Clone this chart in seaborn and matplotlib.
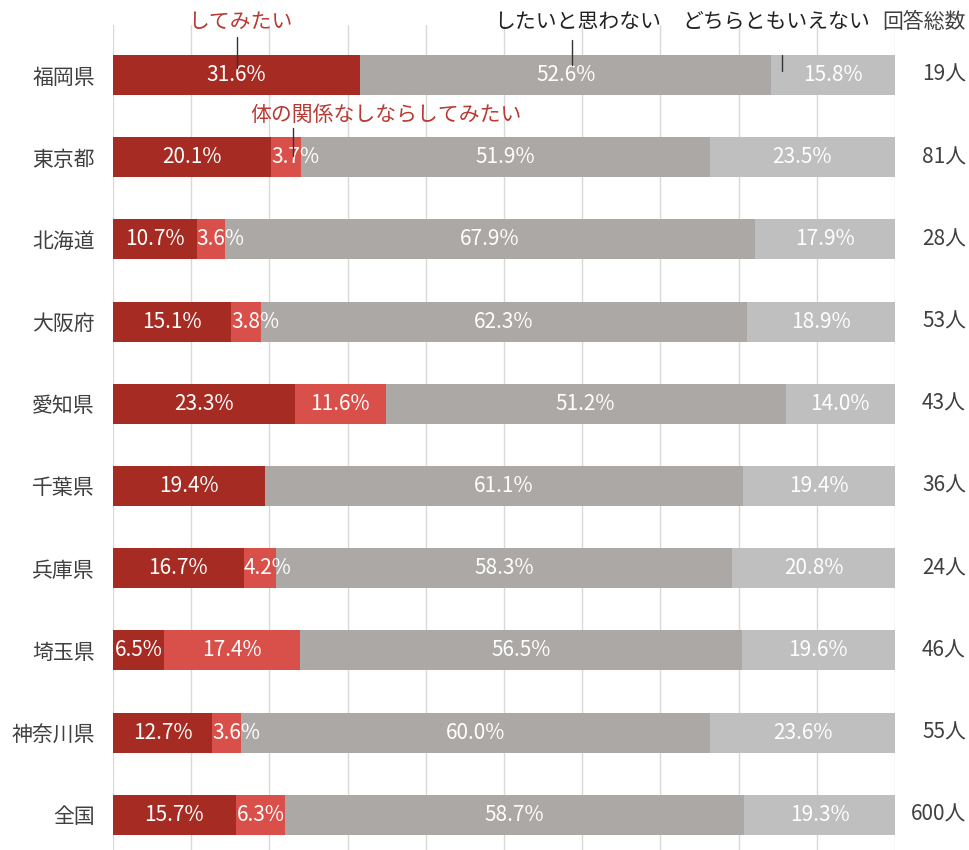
import matplotlib
matplotlib.use("Agg")
import matplotlib.pyplot as plt
import seaborn as sns
import numpy as np
import pandas as pd

sns.set_style("white")
plt.rcParams['font.family'] = ['Noto Sans CJK JP', 'DejaVu Sans']

categories = ["福岡県", "東京都", "北海道", "大阪府", "愛知県", "千葉県", "兵庫県", "埼玉県", "神奈川県", "全国"]
want = [31.6, 20.1, 10.7, 15.1, 23.3, 19.4, 16.7, 6.5, 12.7, 15.7]
want_nonbody = [0.0, 3.7, 3.6, 3.8, 11.6, 0.0, 4.2, 17.4, 3.6, 6.3]
dont_want = [52.6, 51.9, 67.9, 62.3, 51.2, 61.1, 58.3, 56.5, 60.0, 58.7]
neither = [15.8, 23.5, 17.9, 18.9, 14.0, 19.4, 20.8, 19.6, 23.6, 19.3]
counts = ["19人", "81人", "28人", "53人", "43人", "36人", "24人", "46人", "55人", "600人"]
series_names = ["してみたい", "体の関係なしならしてみたい", "したいと思わない", "どちらともいえない"]

colors = ["#a62b23", "#d9504a", "#aca8a6", "#c0bfbf"]
FS = 15

W, H = 969, 850
fig = plt.figure(figsize=(W / 100, H / 100), dpi=100)
ax_left, ax_right = 113, 895
ax_top, ax_bot = 25, 850
ax = fig.add_axes([ax_left / W, 1 - ax_bot / H, (ax_right - ax_left) / W, (ax_bot - ax_top) / H])

vals = np.array([want, want_nonbody, dont_want, neither], dtype=float)
totals = vals.sum(axis=0)
pct = vals / totals * 100
cum = np.cumsum(pct, axis=0)

df = pd.DataFrame({"cat": categories})
bar_h = 40 / 82.2
for k in range(3, -1, -1):
    df["v"] = cum[k]
    sns.barplot(data=df, x="v", y="cat", orient="h", color=colors[k], saturation=1,
                width=bar_h, order=categories, ax=ax, linewidth=0, zorder=2)

ax.set_xlim(0, 100)
y0 = (ax_top - 75) / 82.2
y1 = (ax_bot - 75) / 82.2
ax.set_ylim(y1, y0)
ax.set_xticks(np.arange(0, 101, 10))
ax.grid(axis="x", color="#d9d9d9", linewidth=1, zorder=0)
ax.set_axisbelow(True)
for s in ax.spines.values():
    s.set_visible(False)
ax.set_xticklabels([])
ax.tick_params(axis="x", length=0)
ax.set_xlabel("")
ax.set_ylabel("")
ax.set_yticks(range(len(categories)))
ax.set_yticklabels(categories, fontsize=FS, color="#404040")
ax.tick_params(axis="y", length=0, pad=13)

# segment labels
for i in range(len(categories)):
    start = 0.0
    for k in range(4):
        v = vals[k, i]
        w = pct[k, i]
        if v > 0:
            txt = f"{v:.1f}%"
            if w < 5:
                ax.text(start + 0.0, i, txt, ha="left", va="center", color="white", fontsize=FS, zorder=5)
            else:
                ax.text(start + w / 2, i, txt, ha="center", va="center", color="white", fontsize=FS, zorder=5)
        start += w

# counts on right
for i, c in enumerate(counts):
    ax.text(1.0 + 71 / 782, i, c, transform=ax.get_yaxis_transform(), ha="right", va="center",
            fontsize=FS, color="#404040")

def px2x(px):
    return (px - ax_left) / (ax_right - ax_left) * 100

def py2y(py):
    return (py - 75) / 82.2

# header annotations
ax.text(px2x(240), py2y(22), series_names[0], ha="center", va="center", fontsize=FS, color="#b83a33", clip_on=False)
ax.plot([px2x(237), px2x(237)], [py2y(37), py2y(68)], color="#333333", lw=1, zorder=6, clip_on=False)
ax.text(px2x(578), py2y(22), series_names[2], ha="center", va="center", fontsize=FS, color="#222222", clip_on=False)
ax.plot([px2x(572), px2x(572)], [py2y(40), py2y(65)], color="#333333", lw=1, zorder=6, clip_on=False)
ax.text(px2x(776), py2y(22), series_names[3], ha="center", va="center", fontsize=FS, color="#222222", clip_on=False)
ax.plot([px2x(782), px2x(782)], [py2y(55), py2y(71)], color="#333333", lw=1, zorder=6, clip_on=False)
ax.text(px2x(966), py2y(22), "回答総数", ha="right", va="center", fontsize=FS, color="#404040", clip_on=False)
ax.text(px2x(386), py2y(115), series_names[1], ha="center", va="center", fontsize=FS, color="#b83a33", clip_on=False)
ax.plot([px2x(293), px2x(293)], [py2y(128), py2y(156)], color="#333333", lw=1, zorder=6, clip_on=False)

fig.savefig("out.png", dpi=100)
